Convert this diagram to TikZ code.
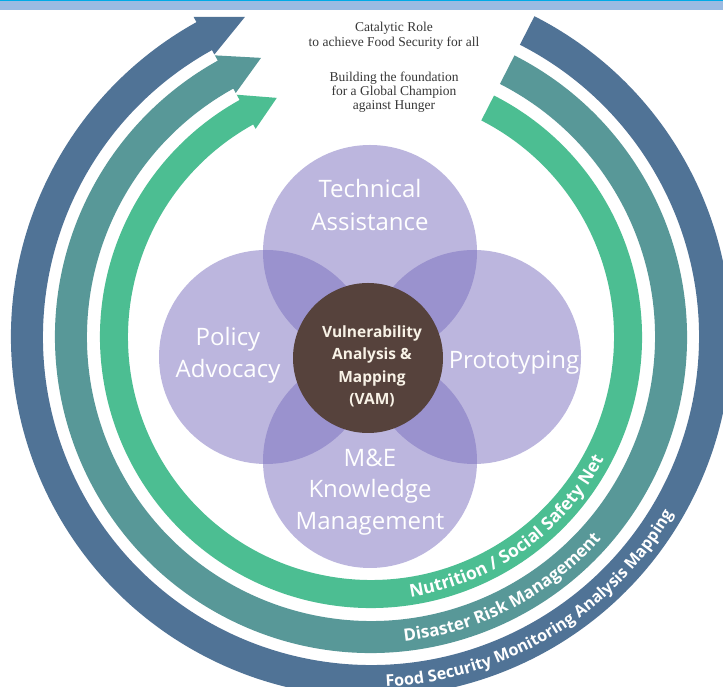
\documentclass[tikz,border=0pt]{standalone}
\usepackage{fontspec}
\setmainfont{Liberation Serif}
\newfontfamily\osans{Open Sans}
\usetikzlibrary{decorations.text}
\definecolor{cdark}{RGB}{80,115,150}
\definecolor{cteal}{RGB}{88,152,152}
\definecolor{cgreen}{RGB}{76,190,146}
\definecolor{cpurp}{RGB}{122,111,191}
\definecolor{cbrown}{RGB}{86,66,60}
\definecolor{barcyan}{RGB}{0,170,230}
\definecolor{barlight}{RGB}{155,187,226}
\definecolor{toptext}{RGB}{55,55,55}
\definecolor{hubtext}{RGB}{248,242,230}
\newcommand\curvefont[1]{\osans\bfseries\fontsize{#1}{18}\selectfont}
% #1 inner radius, #2 outer radius, #3 colour
\newcommand\bandarrow[3]{%
  \fill[#3] (63:#2) arc[start angle=63, end angle=-241, radius=#2]
    -- (119:{#2+6}) -- (111.5:{(#1+#2)/2}) -- (119:{#1-5}) -- (119:#1)
    arc[start angle=-241, end angle=63, radius=#1] -- cycle;}
\begin{document}
\begin{tikzpicture}[x=1pt,y=1pt,
  petal/.style={circle, minimum size=214pt, inner sep=0pt, fill=cpurp, fill opacity=0.5},
  hub/.style={circle, minimum size=150pt, inner sep=0pt, fill=cbrown},
  ptext/.style={text=white, font=\osans\fontsize{24}{28}\selectfont, anchor=base, inner sep=0pt},
  htext/.style={text=hubtext, font=\osans\bfseries\fontsize{15.5}{18}\selectfont, anchor=base, inner sep=0pt},
  ttext/.style={text=toptext, font=\fontsize{13.5}{15}\selectfont, anchor=base, inner sep=0pt},
  curve/.style={decorate, decoration={text along path, text align=center, text={#1}}}
]
\useasboundingbox (0,0) rectangle (723,687);
\clip (0,0) rectangle (723,687);
\fill[white] (0,0) rectangle (723,687);
\fill[barlight] (0,677) rectangle (723,686);
\fill[barcyan] (0,685.7) rectangle (723,687);

\begin{scope}[shift={(371,350)}]
  \bandarrow{328}{360}{cdark}
  \bandarrow{284}{316}{cteal}
  \bandarrow{243}{271}{cgreen}
  \path[curve={|\color{white}\curvefont{17.6}|Nutrition / Social Safety Net}]
    (-114.5:263) arc[start angle=-114.5, end angle=5.5, radius=263];
  \path[curve={|\color{white}\curvefont{17}|Disaster Risk Management}]
    (-122.5:306) arc[start angle=-122.5, end angle=-2.5, radius=306];
  \path[curve={|\color{white}\curvefont{16.2}|Food Security Monitoring Analysis Mapping}]
    (-119:350) arc[start angle=-119, end angle=1, radius=350];
\end{scope}

\node[petal] (ta) at (370,435) {};
\node[petal] (pa) at (266,330) {};
\node[petal] (pr) at (474,330) {};
\node[petal] (me) at (370,226) {};
\node[hub] (vam) at (368,329) {};

\node[ptext] (ta1) at (370,489) {Technical};
\node[ptext] (ta2) at (370,456) {Assistance};
\node[ptext] (pa1) at (228,341) {Policy};
\node[ptext] (pa2) at (228,309) {Advocacy};
\node[ptext] (pr1) at (514,318) {Prototyping};
\node[ptext] (me1) at (370,220) {M\&E};
\node[ptext] (me2) at (370,189) {Knowledge};
\node[ptext] (me3) at (370,157) {Management};

\node[htext] (v1) at (372,349) {Vulnerability};
\node[htext] (v2) at (372,327) {Analysis \&};
\node[htext] (v3) at (372,304) {Mapping};
\node[htext] (v4) at (372,282) {(VAM)};

\node[ttext] (t1) at (394,655.5) {Catalytic Role};
\node[ttext] (t2) at (394,640) {to achieve Food Security for all};
\node[ttext] (t3) at (394,605) {Building the foundation};
\node[ttext] (t4) at (394,591) {for a Global Champion};
\node[ttext] (t5) at (394,577) {against Hunger};
\end{tikzpicture}
\end{document}
